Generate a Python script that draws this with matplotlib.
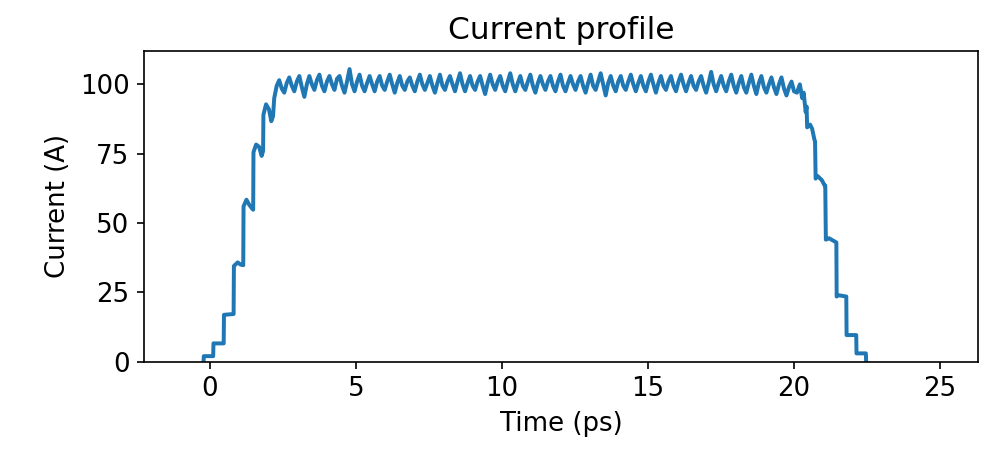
import numpy as np
import matplotlib
matplotlib.use("Agg")
import matplotlib.pyplot as plt
from matplotlib.ticker import MultipleLocator

plt.rcParams["font.size"] = 12.5

# rising edge (ps, A)
rise_t = [-0.22, -0.21, 0.11, 0.12, 0.47, 0.48, 0.81, 0.82, 0.95, 1.05, 1.14,
          1.15, 1.25, 1.35, 1.46, 1.48, 1.49, 1.58, 1.68, 1.77, 1.82, 1.83, 1.92,
          2.02, 2.1, 2.16]
rise_i = [0.0, 2.0, 2.0, 6.6, 6.6, 16.9, 17.2, 34.5, 35.8, 35.0, 34.8,
          56.0, 58.4, 56.5, 55.0, 54.8, 75.5, 78.3, 77.5, 74.2, 76.0, 89.0, 92.8,
          91.0, 86.7, 88.5]

# flat top, sampled every ~0.086 ps from 2.2 ps to 20.0 ps (ripple ~0.34 ps)
top_start, top_end = 2.2, 20.0
top_i = [
    95, 99.5, 101.5, 98.5, 97, 100.5, 102.5, 99.5,
    97.5, 101, 103, 99, 95.5, 100, 103, 100,
    98, 101.5, 103.5, 99.5, 97.5, 101, 103, 100,
    98, 102, 103, 99.5, 97, 101, 105.5, 100,
    97.5, 101, 103.5, 99.5, 97.5, 100.5, 103, 100,
    97.5, 101, 103, 99.5, 98, 101, 103.5, 100,
    97, 100.5, 103, 99.5, 98, 101, 102.5, 99.5,
    97.5, 101, 103.5, 100, 98, 100.5, 103, 99.5,
    97, 100.5, 103.5, 99.5, 98, 101, 103, 100,
    97.5, 101, 104, 100, 97.5, 100.5, 103, 99.5,
    98, 101, 103, 99.5, 96.5, 100.5, 103.5, 100,
    98, 101, 103, 99.5, 97.5, 101, 104, 100,
    97.5, 100.5, 103, 99.5, 98, 101, 103.5, 99.5,
    97, 100.5, 103, 100, 98, 101, 103, 99.5,
    97.5, 101, 103.5, 99.5, 97.5, 100.5, 103, 100,
    98, 101, 103, 99.5, 97, 100.5, 103.5, 99.5,
    98, 101, 104, 100, 96, 100.5, 103, 99.5,
    97.5, 101, 103, 99.5, 98, 101, 103.5, 100,
    97.5, 100.5, 103, 99.5, 97.5, 101, 103.5, 100,
    97, 100.5, 103, 99.5, 98, 101, 103, 99.5,
    97.5, 101, 103.5, 100, 97.5, 100.5, 103, 99.5,
    98, 101, 103, 99.5, 97, 100.5, 104.5, 100,
    97.5, 100.5, 103, 99.5, 97.5, 101, 103.5, 99.5,
    97, 100.5, 103, 99, 97, 100.5, 103.5, 99.5,
    96.5, 100.5, 103, 99, 97, 100, 102.5, 99,
    96.5, 100, 102.5, 98.5, 96, 99, 101, 97.5,
]

# falling edge
fall_t = [20.1, 20.2, 20.28, 20.33, 20.4, 20.43, 20.45, 20.55, 20.62, 20.7, 20.72,
          20.74, 20.8, 20.95, 21.05, 21.07, 21.09, 21.2, 21.45, 21.46, 21.5, 21.79,
          21.8, 22.13, 22.14, 22.46, 22.47]
fall_i = [97, 100, 95, 97, 90, 92, 84.5, 85.5, 84, 80, 79.5,
          66, 67, 65.5, 63.5, 63.5, 44, 44.5, 43, 23.5, 24, 23.5,
          9.6, 9.6, 3.0, 3.0, 0.0]

top_t = np.linspace(top_start, top_end, len(top_i))
t = np.concatenate([rise_t, top_t, fall_t])
current = np.concatenate([rise_i, top_i, fall_i])

fig = plt.figure(figsize=(6.56, 3.04), dpi=150)
ax = fig.add_axes([0.1463, 0.2068, 0.8476, 0.6812])
ax.plot(t, current, lw=1.9)
ax.set_xlim(-2.26, 26.3)
ax.set_ylim(0, 112)
ax.yaxis.set_major_locator(MultipleLocator(25))
ax.set_xlabel("Time (ps)")
ax.set_ylabel("Current (A)")
ax.set_title("Current profile")

fig.savefig("out.png", dpi=150)
